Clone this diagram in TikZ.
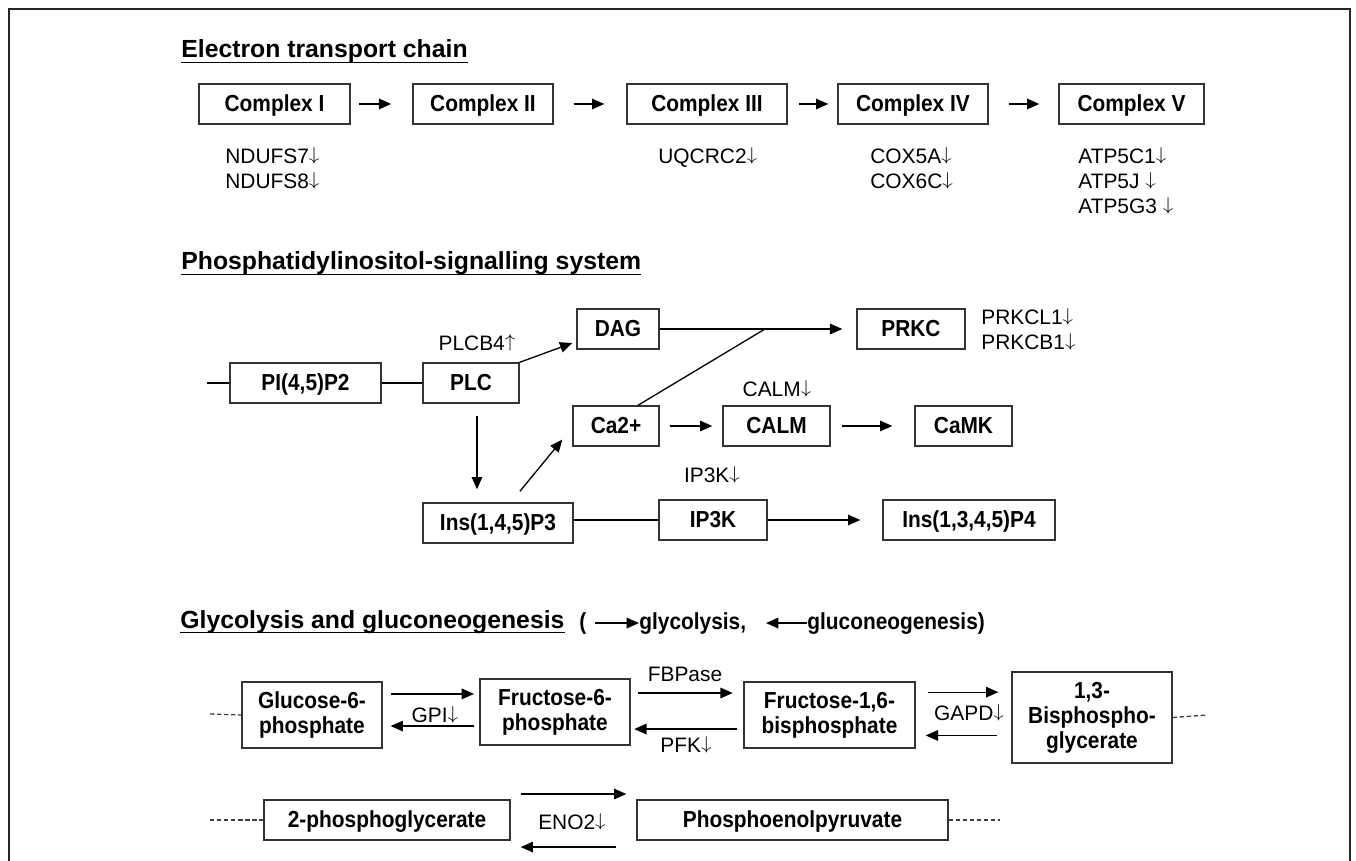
\documentclass[tikz,border=0pt]{standalone}
\usepackage{fontspec}
\setmainfont{Liberation Sans}
\newfontfamily\narrowsans[FakeStretch=0.9]{Liberation Sans}
\usetikzlibrary{arrows.meta}

\newcommand\boxfnt{\narrowsans\fontsize{13.2}{14.2}\selectfont\bfseries}
\newcommand\lblfnt{\fontsize{11.9}{14.2}\selectfont}
\newcommand\ttlfnt{\fontsize{14.1}{17}\selectfont\bfseries}
\newcommand\dn{\smash{\raisebox{0.15em}{\scalebox{1}[0.88]{$\downarrow$}}}}
\newcommand\up{\smash{\raisebox{0.15em}{\scalebox{1}[0.88]{$\uparrow$}}}}

\tikzset{
  box/.style={draw=black!80, line width=0.8pt, minimum height=0.8cm, inner sep=0pt, align=center, font=\boxfnt, text height=9.5pt, text depth=0.6pt},
  tall/.style={minimum height=1.32cm, text height={}, text depth={}},
  lbl/.style={inner sep=0pt, align=left, font=\lblfnt},
  ttl/.style={inner sep=0pt, anchor=base west, font=\ttlfnt},
  arr/.style={-{Triangle[length=7pt,width=6pt]}, line width=0.75pt},
  link/.style={line width=0.75pt},
  dots/.style={line width=0.75pt, dash pattern=on 2.5pt off 1.5pt, black!75}
}

\begin{document}
\begin{tikzpicture}[x=0.02cm, y=-0.02cm]
		\useasboundingbox (0,0) rectangle (1356,861);
		\draw[line width=1.2pt, black!85] (9,861) -- (9,9) -- (1350,9) -- (1350,861);
		
		%%%%% ELECTRON TRANSPORT CHAIN %%%%%
		\node[ttl] (t1) at (181,58) {Electron transport chain};
		\draw[line width=1pt] ([yshift=-2.6pt]t1.base west) -- ([yshift=-2.6pt]t1.base east);
		
		\node[box, minimum width=3.02cm] (c1) at (274.5,104) {Complex I};
		\node[box, minimum width=2.8cm] (c2) at (483,104) {Complex II};
		\node[box, minimum width=3.2cm] (c3) at (707,104) {Complex III};
		\node[box, minimum width=3.0cm] (c4) at (913,104) {Complex IV};
		\node[box, minimum width=2.9cm] (c5) at (1131.5,104) {Complex V};
		
		\draw[arr, shorten <=5pt, shorten >=12pt] (c1) -- (c2);
		\draw[arr, shorten <=11.4pt, shorten >=12.5pt] (c2) -- (c3);
		\draw[arr, shorten <=6.3pt, shorten >=5.1pt] (c3) -- (c4);
		\draw[arr, shorten <=11.4pt, shorten >=10.8pt] (c4) -- (c5);
		
		\node[lbl, anchor=north west] (g1) at (225,149) {NDUFS7\dn\\NDUFS8\dn};
		\node[lbl, anchor=north west] (g3) at (658,149) {UQCRC2\dn};
		\node[lbl, anchor=north west] (g4) at (870,149) {COX5A\dn\\COX6C\dn};
		\node[lbl, anchor=north west] (g5) at (1078,149) {ATP5C1\dn\\ATP5J \dn\\ATP5G3 \dn};
		
		%%%%% PHOSPHATIDYLINOSITOL %%%%%
		\node[ttl] (t2) at (181,270) {Phosphatidylinositol-signalling system};
		\draw[line width=1pt] ([yshift=-2.6pt]t2.base west) -- ([yshift=-2.6pt]t2.base east);
		
		\node[box, minimum width=3.02cm] (pi) at (305.5,383) {PI(4,5)P2};
		\node[box, minimum width=1.92cm] (plc) at (471,383) {PLC};
		\node[box, minimum width=1.64cm] (dag) at (618,329) {DAG};
		\node[box, minimum width=2.16cm] (prkc) at (911,329) {PRKC};
		\node[box, minimum width=1.72cm] (ca) at (616,426) {Ca2+};
		\node[box, minimum width=2.14cm] (calm) at (776.5,426) {CALM};
		\node[box, minimum width=1.94cm] (camk) at (963.5,426) {CaMK};
		\node[box, minimum width=3.0cm] (ins3) at (498,523) {Ins(1,4,5)P3};
		\node[box, minimum width=2.16cm] (ip3k) at (713,520) {IP3K};
		\node[box, minimum width=3.44cm] (ins4) at (969,520) {Ins(1,3,4,5)P4};
		
		\coordinate (pistub) at (207,383);
		\coordinate (mix) at (765,329);
		
		\draw[link] (pistub) -- (pi.west);
		\draw[link] (pi.east) -- (plc.west);
		\draw[arr] (plc.north east) -- ([xshift=-2.3pt,yshift=-8pt]dag.west);
		\draw[arr, shorten >=8pt] (dag.east) -- (prkc.west);
		\draw[link] ([xshift=12.5pt]ca.north) -- (mix);
		\draw[arr, shorten <=7pt, shorten >=7.4pt] ([xshift=3.4pt]plc.south) -- ([xshift=3.4pt]plc.south |- ins3.north);
		\draw[arr] ([xshift=12.5pt,yshift=6.3pt]ins3.north) -- ([xshift=-5.7pt,yshift=4pt]ca.south west);
		\draw[arr, shorten <=5.7pt, shorten >=5.7pt] (ca) -- (calm);
		\draw[arr, shorten <=6.3pt, shorten >=12.5pt] (calm) -- (camk);
		\draw[link] (ins3.east |- ip3k.west) -- (ip3k.west);
		\draw[arr, shorten >=12.5pt] (ip3k) -- (ins4);
		
		\node[lbl] (plcb) at (477,343) {PLCB4\up};
		\node[lbl] (calml) at (777,389) {CALM\dn};
		\node[lbl] (ip3kl) at (712,475) {IP3K\dn};
		\node[lbl, anchor=north west] (prkcl) at (981,310) {PRKCL1\dn\\PRKCB1\dn};
		
		%%%%% GLYCOLYSIS %%%%%
		\node[ttl] (t3) at (180,628) {Glycolysis and gluconeogenesis};
		\draw[line width=1pt] ([yshift=-2.6pt]t3.base west) -- ([yshift=-2.6pt]t3.base east);
		\node[ttl, font=\boxfnt] (lp) at (579,629) {(};
		\node[ttl, font=\boxfnt] (glyc) at (639,629) {glycolysis,};
		\node[ttl, font=\boxfnt] (gluc) at (807,629) {gluconeogenesis)};
		\draw[arr] ([xshift=-25pt]glyc.west) -- (glyc.west);
		\draw[arr] (gluc.west) -- ++(-41,0);
		
		\node[box, tall, minimum width=2.8cm] (g6p) at (312,715) {Glucose-6-\\phosphate};
		\node[box, tall, minimum width=3.0cm] (f6p) at (555,712) {Fructose-6-\\phosphate};
		\node[box, tall, minimum width=3.42cm] (f16) at (829.5,715) {Fructose-1,6-\\bisphosphate};
		\node[box, tall, minimum width=3.2cm, minimum height=1.82cm] (bpg) at (1092,717.5) {1,3-\\Bisphospho-\\glycerate};
		\node[box, minimum width=4.92cm] (pg2) at (387,820) {2-phosphoglycerate};
		\node[box, minimum width=6.22cm] (pep) at (792.5,820) {Phosphoenolpyruvate};
		
		\coordinate (s1) at (210,714);
		\coordinate (s2) at (1207,715);
		\coordinate (s3) at (210,820);
		\coordinate (s4) at (1000,820);
		\draw[dots] (s1) -- (g6p.west);
		\draw[dots] (bpg.east) -- (s2);
		\draw[dots] (s3) -- (pg2.west);
		\draw[dots] (pep.east) -- (s4);
		
		\draw[arr, shorten <=4.5pt, shorten >=3pt] ([yshift=12pt]g6p.east) -- ([yshift=12pt]g6p.east -| f6p.west);
		\draw[arr, shorten <=3pt, shorten >=4.5pt] ([yshift=-8pt]f6p.west) -- ([yshift=-8pt]f6p.west -| g6p.east);
		\draw[arr, shorten <=4pt, shorten >=6pt] ([yshift=10.8pt]f6p.east) -- ([yshift=10.8pt]f6p.east -| f16.west);
		\draw[arr, shorten <=3.4pt, shorten >=2pt] ([yshift=-8pt]f16.west) -- ([yshift=-8pt]f16.west -| f6p.east);
		\draw[arr, shorten <=6.8pt, shorten >=7.4pt] ([yshift=13pt]f16.east) -- ([yshift=13pt]f16.east -| bpg.west);
		\draw[arr, shorten <=8pt, shorten >=5.7pt] ([yshift=-10.2pt]bpg.west) -- ([yshift=-10.2pt]bpg.west -| f16.east);
		\draw[arr, shorten <=5.7pt, shorten >=5.7pt] ([yshift=14.8pt]pg2.east) -- ([yshift=14.8pt]pg2.east -| pep.west);
		\draw[arr, shorten <=11.4pt, shorten >=5.7pt] ([yshift=-15.4pt]pep.west) -- ([yshift=-15.4pt]pep.west -| pg2.east);
		
		\node[lbl] (gpi) at (435,715) {GPI\dn};
		\node[lbl] (fbp) at (685,674) {FBPase};
		\node[lbl] (pfk) at (686,745) {PFK\dn};
		\node[lbl] (gapd) at (969,713) {GAPD\dn};
		\node[lbl] (eno) at (572,822) {ENO2\dn};
\end{tikzpicture}
\end{document}
